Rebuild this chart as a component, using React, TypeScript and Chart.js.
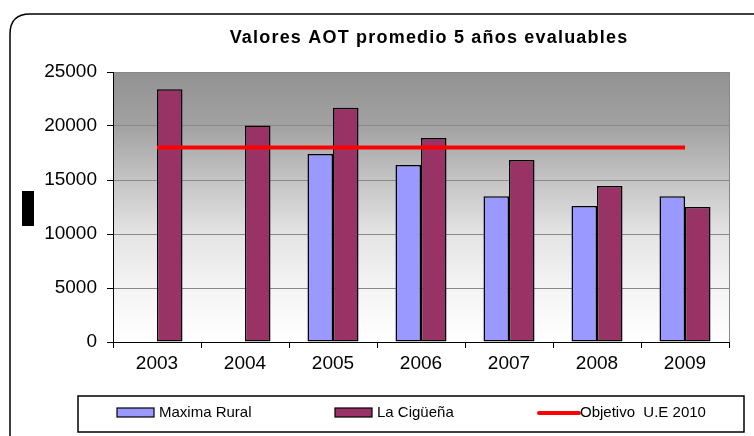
import React, { useEffect, useRef } from "react";
import { Chart, registerables } from "chart.js";

Chart.register(...registerables);

const titleText = "Valores AOT promedio 5 años evaluables";
const years = ["2003", "2004", "2005", "2006", "2007", "2008", "2009"];
const maximaRural = [null, null, 17400, 16400, 13500, 12600, 13500];
const laCiguena = [23400, 20050, 21700, 18900, 16850, 14450, 12500];
const objetivoUE = [18000, 18000, 18000, 18000, 18000, 18000, 18000];
const seriesNames = ["Maxima Rural", "La Cigüeña", "Objetivo  U.E 2010"];
const yTicks = [0, 5000, 10000, 15000, 20000, 25000];

const FONT = "'Liberation Sans', Arial, sans-serif";

const decorPlugin = {
  id: "decor",
  beforeDraw(chart: any) {
    const { ctx, chartArea: a, width, height } = chart;
    ctx.save();
    ctx.fillStyle = "#ffffff";
    ctx.fillRect(0, 0, width, height);
    // frame
    const x0 = 10, y0 = 14, r = 20;
    const x1 = width - 10, y1 = height + 20;
    ctx.beginPath();
    ctx.moveTo(x0 + r, y0);
    ctx.lineTo(x1 - r, y0);
    ctx.quadraticCurveTo(x1, y0, x1, y0 + r);
    ctx.lineTo(x1, y1);
    ctx.lineTo(x0, y1);
    ctx.lineTo(x0, y0 + r);
    ctx.quadraticCurveTo(x0, y0, x0 + r, y0);
    ctx.lineWidth = 1.5;
    ctx.strokeStyle = "#000";
    ctx.stroke();
    // plot background gradient
    const g = ctx.createLinearGradient(0, a.top, 0, a.bottom);
    g.addColorStop(0, "#929292");
    g.addColorStop(0.2, "#a2a2a2");
    g.addColorStop(0.4, "#c4c4c4");
    g.addColorStop(0.6, "#e4e4e4");
    g.addColorStop(0.8, "#f4f4f4");
    g.addColorStop(1, "#ffffff");
    ctx.fillStyle = g;
    ctx.fillRect(a.left, a.top, a.right - a.left, a.bottom - a.top);
    ctx.restore();
  },
  afterDraw(chart: any) {
    const { ctx, chartArea: a } = chart;
    ctx.save();
    // plot border right
    ctx.strokeStyle = "#888";
    ctx.lineWidth = 1;
    ctx.beginPath();
    ctx.moveTo(a.right + 0.5, a.top);
    ctx.lineTo(a.right + 0.5, a.bottom);
    ctx.stroke();
    // title
    ctx.fillStyle = "#000";
    ctx.font = "bold 18px " + FONT;
    (ctx as any).letterSpacing = "1.2px";
    ctx.textAlign = "center";
    ctx.textBaseline = "middle";
    ctx.fillText(titleText, 429, 38);
    (ctx as any).letterSpacing = "0px";
    // black blob (axis title artefact)
    ctx.fillStyle = "#000";
    ctx.fillRect(22, 191, 12, 35);
    // legend
    ctx.strokeStyle = "#000";
    ctx.lineWidth = 1.5;
    ctx.strokeRect(78, 396, 666, 36);
    const ds = chart.data.datasets;
    const itemX = [117, 335, 537];
    const cy = 413;
    ctx.font = "15px " + FONT;
    ctx.textAlign = "left";
    ctx.textBaseline = "middle";
    ds.forEach((d: any, i: number) => {
      const x = itemX[i];
      let tx;
      if (d.type === "line") {
        ctx.strokeStyle = d.borderColor;
        ctx.lineWidth = 4;
        ctx.lineCap = "round";
        ctx.beginPath();
        ctx.moveTo(x + 2, cy);
        ctx.lineTo(x + 42, cy);
        ctx.stroke();
        tx = x + 43;
      } else {
        ctx.fillStyle = d.backgroundColor;
        ctx.fillRect(x, cy - 5, 37, 9);
        ctx.strokeStyle = "#000";
        ctx.lineWidth = 1.2;
        ctx.strokeRect(x, cy - 5, 37, 9);
        tx = x + 42;
      }
      ctx.fillStyle = "#000";
      ctx.fillText(d.label, tx, cy);
    });
    ctx.restore();
  },
};

export default function App() {
  const ref = useRef<HTMLCanvasElement | null>(null);
  useEffect(() => {
    if (!ref.current) return;
    const chart = new Chart(ref.current, {
      type: "bar",
      data: {
        labels: years,
        datasets: [
          {
            type: "bar",
            label: seriesNames[0],
            data: maximaRural as any,
            backgroundColor: "#9999ff",
            borderColor: "#000",
            borderWidth: 1.5,
            borderSkipped: false,
            order: 1,
          },
          {
            type: "bar",
            label: seriesNames[1],
            data: laCiguena,
            backgroundColor: "#993366",
            borderColor: "#000",
            borderWidth: 1.5,
            borderSkipped: false,
            order: 1,
          },
          {
            type: "line",
            label: seriesNames[2],
            data: objetivoUE,
            borderColor: "#ff0000",
            borderWidth: 4,
            pointRadius: 0,
            fill: false,
            order: 0,
          } as any,
        ],
      },
      options: {
        responsive: false,
        animation: false,
        devicePixelRatio: 1,
        datasets: { bar: { categoryPercentage: 0.58, barPercentage: 1 } },
        layout: { padding: { top: 72, right: 129, bottom: 0, left: 0 } },
        plugins: {
          legend: { display: false },
          title: { display: false },
          tooltip: { enabled: false },
        },
        scales: {
          x: {
            offset: true,
            grid: {
              offset: true,
              drawOnChartArea: false,
              drawTicks: true,
              tickLength: 6,
              tickColor: "#000",
            },
            border: { display: true, color: "#000", width: 1 },
            ticks: {
              color: "#000",
              font: { family: FONT, size: 19 },
              padding: 4,
            },
            afterFit: (s: any) => {
              s.height = 108;
            },
          },
          y: {
            min: 0,
            max: 25000,
            afterBuildTicks: (s: any) => {
              s.ticks = yTicks.map((v) => ({ value: v }));
            },
            grid: {
              color: "#888",
              lineWidth: 1,
              drawTicks: true,
              tickLength: 6,
              tickColor: "#000",
            },
            border: { display: true, color: "#000", width: 1 },
            ticks: {
              color: "#000",
              font: { family: FONT, size: 19 },
              padding: 10,
              callback: (v: any) => String(v),
            },
            afterFit: (s: any) => {
              s.width = 113;
            },
          },
        },
      },
      plugins: [decorPlugin],
    });
    return () => chart.destroy();
  }, []);
  return (
    <div
      style={{
        position: "absolute",
        left: 0,
        top: 0,
        width: 754,
        height: 436,
        overflow: "hidden",
        background: "#fff",
      }}
    >
      <canvas ref={ref} width={858} height={450} style={{ display: "block", width: 858, height: 450 }} />
    </div>
  );
}
